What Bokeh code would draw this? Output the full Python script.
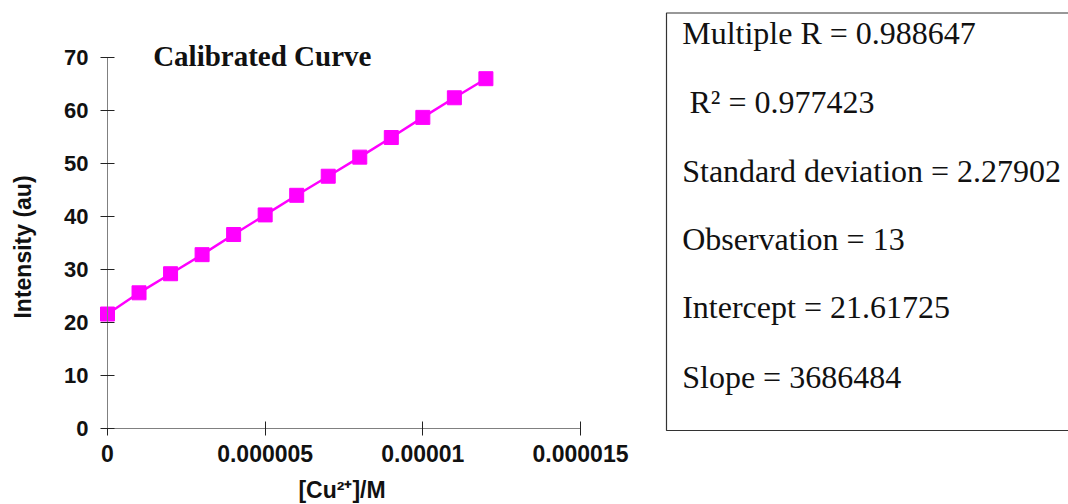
import math
from bokeh.plotting import figure
from bokeh.models import Range1d, FixedTicker, Label, BoxAnnotation
from bokeh.embed import file_html
from bokeh.resources import INLINE

# ---- data ----
concentration = [0, 1e-6, 2e-6, 3e-6, 4e-6, 5e-6, 6e-6, 7e-6, 8e-6, 9e-6, 1e-5, 1.1e-5, 1.2e-5]
intensity = [21.6, 25.6, 29.2, 32.8, 36.6, 40.3, 44.0, 47.6, 51.2, 54.9, 58.7, 62.4, 66.0]
x_ticks = [0, 5e-6, 1e-5, 1.5e-5]
x_tick_labels = ["0", "0.000005", "0.00001", "0.000015"]
y_ticks = [0, 10, 20, 30, 40, 50, 60, 70]
stat_names = ["Multiple R", "R²", "Standard deviation", "Observation", "Intercept", "Slope"]
stat_values = ["0.988647", "0.977423", "2.27902", "13", "21.61725", "3686484"]

SANS = "Liberation Sans"
SERIF = "Liberation Serif"

W, H = 1068, 504
AX_L, AX_R, AX_T, AX_B = 107, 580, 57, 428   # extent of the chart axes (page px)
X_MAX, Y_MAX = 1.5e-5, 70
x_per_px = X_MAX / (AX_R - AX_L)
y_per_px = Y_MAX / (AX_B - AX_T)

# the frame covers the whole page; the axes are pinned at the data origin
p = figure(width=W, height=H, output_backend="svg", toolbar_location=None,
           x_range=Range1d(-AX_L * x_per_px, (W - AX_L) * x_per_px),
           y_range=Range1d(-(H - AX_B) * y_per_px, AX_B * y_per_px),
           min_border_left=0, min_border_right=0, min_border_top=0, min_border_bottom=0)
# page-pixel ranges for the text and the statistics box
p.extra_x_ranges = {"px": Range1d(0, W)}
p.extra_y_ranges = {"px": Range1d(H, 0)}
p.outline_line_color = None
p.xgrid.visible = False
p.ygrid.visible = False
p.background_fill_color = "white"
p.border_fill_color = "white"

p.line(concentration, intensity, line_color="#FF00FF", line_width=2.5)
p.scatter(concentration, intensity, marker="square", size=14,
          fill_color="#FF00FF", line_color="#FF00FF")

for ax in (p.xaxis[0], p.yaxis[0]):
    ax.fixed_location = 0
    ax.axis_line_color = "#808080"
    ax.axis_line_width = 1
    ax.major_tick_line_color = "#222222"
    ax.major_tick_in = 7
    ax.major_tick_out = 7
    ax.minor_tick_line_color = None
    ax.major_label_text_font = SANS
    ax.major_label_text_font_style = "bold"
    ax.major_label_text_color = "#111111"

p.xaxis.bounds = (0, X_MAX)
p.xaxis.ticker = FixedTicker(ticks=x_ticks)
p.xaxis.major_label_overrides = dict(zip(x_ticks, x_tick_labels))
p.xaxis.major_label_text_font_size = "23px"
p.xaxis.major_label_standoff = 9

p.yaxis.bounds = (0, Y_MAX)
p.yaxis.ticker = FixedTicker(ticks=y_ticks)
p.yaxis.major_label_text_font_size = "22px"
p.yaxis.major_label_standoff = 12

# axis titles
p.add_layout(Label(x=341.5, y=489, text="[Cu²⁺]/M", x_range_name="px", y_range_name="px",
                   text_font=SANS, text_font_style="bold", text_font_size="23px",
                   text_color="#111111", text_align="center", text_baseline="middle"))
p.add_layout(Label(x=22, y=246.5, text="Intensity (au)", angle=math.pi / 2,
                   x_range_name="px", y_range_name="px",
                   text_font=SANS, text_font_style="bold", text_font_size="23px",
                   text_color="#111111", text_align="center", text_baseline="middle"))

p.add_layout(Label(x=1.448e-6, y=70.3, text="Calibrated Curve",
                   text_font=SERIF, text_font_style="bold", text_font_size="29px",
                   text_color="#111111", text_baseline="alphabetic", text_align="left"))

# ---- statistics box ----
p.add_layout(BoxAnnotation(left=666, right=1090, top=12.5, bottom=430,
                           x_range_name="px", y_range_name="px",
                           fill_alpha=0, line_color="#333333", line_width=1.2,
                           line_alpha=1))

baselines = [32.8, 101.2, 170.2, 238.5, 306.8, 376.2]
for i, (name, val) in enumerate(zip(stat_names, stat_values)):
    xpos = 689 if i == 1 else 681.7
    p.add_layout(Label(x=xpos, y=baselines[i], text=f"{name} = {val}",
                       x_range_name="px", y_range_name="px",
                       text_font=SERIF, text_font_size="32px", text_color="#111111",
                       text_baseline="alphabetic", text_align="left"))

open("out.html", "w").write(file_html(p, INLINE))
